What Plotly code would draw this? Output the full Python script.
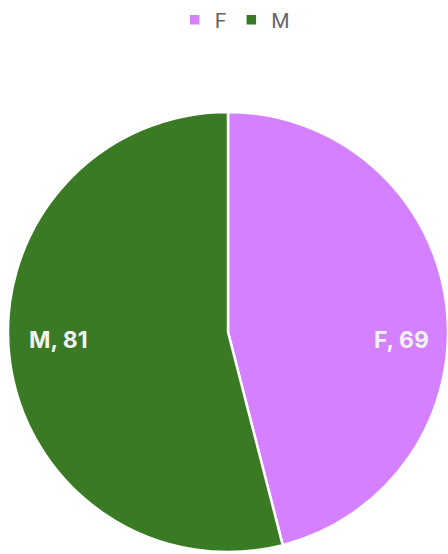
import math
import plotly.graph_objects as go

labels = ["F", "M"]
values = [69, 81]
colors = ["#D580FF", "#3B7A24"]

fig = go.Figure(go.Pie(
    labels=labels,
    values=values,
    sort=False,
    direction="clockwise",
    rotation=0,
    marker=dict(colors=colors, line=dict(color="white", width=2.5)),
    textinfo="none",
    hoverinfo="label+value",
))

# inside labels, placed horizontally along each slice's mid-angle
total = sum(values)
start = 0.0
annotations = []
for lab, val in zip(labels, values):
    frac = val / total
    mid = (start + frac / 2) * 2 * math.pi
    start += frac
    annotations.append(dict(
        x=0.5 + 0.393 * math.sin(mid),
        y=0.5,
        xref="paper", yref="paper",
        xanchor="center", yanchor="middle",
        text=f"{lab}, {val}",
        showarrow=False,
        xshift=2,
        yshift=-8,
        font=dict(family="Inter", size=23, color="#F2F2F2", weight="bold"),
    ))

fig.update_layout(
    width=448,
    height=554,
    margin=dict(l=8, r=0, t=111, b=1),
    paper_bgcolor="white",
    plot_bgcolor="white",
    showlegend=True,
    annotations=annotations,
    legend=dict(
        orientation="h",
        xref="container",
        yref="container",
        x=0.39,
        xanchor="left",
        y=1 - 20 / 554,
        yanchor="middle",
        font=dict(family="Roboto", size=21, color="#666666"),
        itemwidth=30,
    ),
)

fig.write_html(
    "out.html",
    config={"displayModeBar": False},
    post_script="document.body.style.margin='0';",
)
